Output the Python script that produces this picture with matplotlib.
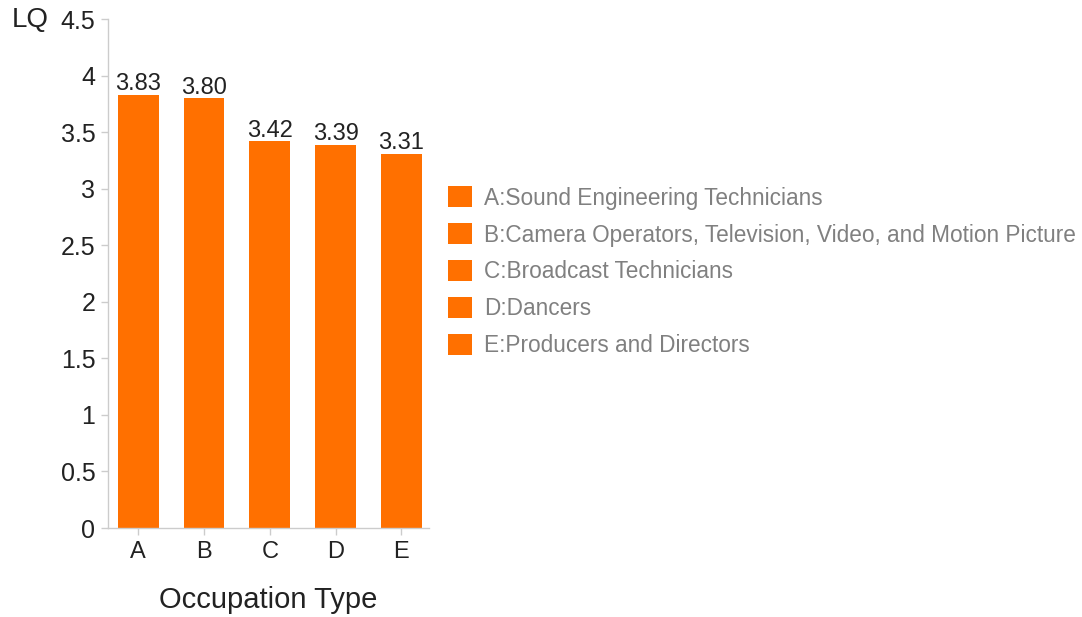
import matplotlib.pyplot as plt
from matplotlib.patches import Patch

#%% Data

occupations = ["A", "B", "C", "D", "E"]
lq = [3.83, 3.80, 3.42, 3.39, 3.31]
legend_labels = ["A:Sound Engineering Technicians",
                 "B:Camera Operators, Television, Video, and Motion Picture",
                 "C:Broadcast Technicians",
                 "D:Dancers",
                 "E:Producers and Directors"]
yticks = [0, 0.5, 1, 1.5, 2, 2.5, 3, 3.5, 4, 4.5]
ytick_labels = ["0", "0.5", "1", "1.5", "2", "2.5", "3", "3.5", "4", "4.5"]

orange = "#FF7000"
grey = "#cccccc"
dark = "#222222"

plt.rcParams['font.family'] = ['Liberation Sans', 'DejaVu Sans']

#%% Bar plot

fig = plt.figure(figsize=(10.82, 6.17), dpi=100)
ax = fig.add_axes([0.0998, 0.1442, 0.2967, 0.825])

x = range(len(occupations))
ax.bar(x, lq, width=0.62, color=orange)

# value labels sit just above each bar
for i, v in enumerate(lq):
    ax.text(i, v + 0.04, f"{v:.2f}", ha="center", va="baseline", fontsize=17, color=dark)

ax.set_xlim(-0.46, 4.42)
ax.set_ylim(0, 4.5)
ax.set_xticks(list(x))
ax.set_xticklabels(occupations, fontsize=17, color=dark)
ax.set_yticks(yticks)
ax.set_yticklabels(ytick_labels, fontsize=18, color=dark)
ax.tick_params(axis="both", length=5, color=grey, width=1)
ax.tick_params(axis="x", pad=4)
ax.tick_params(axis="y", pad=4)

for side in ["top", "right"]:
    ax.spines[side].set_visible(False)
for side in ["left", "bottom"]:
    ax.spines[side].set_color(grey)
    ax.spines[side].set_linewidth(1)

ax.set_xlabel("Occupation Type", fontsize=21, color=dark, labelpad=17)
fig.text(0.011, 0.967, "LQ", fontsize=20, color=dark, va="center", ha="left")

# legend on the right
handles = [Patch(facecolor=orange, edgecolor="none") for _ in legend_labels]
leg = fig.legend(handles, legend_labels, loc="upper left", bbox_to_anchor=(0.414, 0.698),
                 frameon=False, fontsize=16.3, handlelength=1.06, handleheight=1.06,
                 labelspacing=0.6, handletextpad=0.53, borderaxespad=0, borderpad=0)
for t in leg.get_texts():
    t.set_color("#808080")

fig.savefig("out.png", dpi=100)
